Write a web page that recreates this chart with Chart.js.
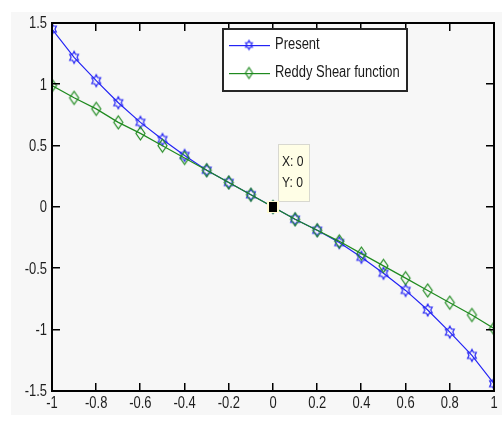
<!DOCTYPE html>
<html>
<head>
<meta charset="utf-8">
<script src="https://cdn.jsdelivr.net/npm/chart.js@4"></script>
<style>
  html, body { margin: 0; padding: 0; background: #ffffff; }
  #wrap { position: relative; width: 502px; height: 425px; }
  #bg { position: absolute; left: 11px; top: 12px; width: 491px; height: 403px; background: #f7f7f7; }
  canvas#plot { position: absolute; left: 0; top: 0; }
</style>
</head>
<body>
<div id="wrap">
  <div id="bg"></div>
  <canvas id="plot" width="502" height="425"></canvas>
</div>
<script>
// x positions shared by both curves
const xValues = [-1, -0.9, -0.8, -0.7, -0.6, -0.5, -0.4, -0.3, -0.2, -0.1, 0,
  0.1, 0.2, 0.3, 0.4, 0.5, 0.6, 0.7, 0.8, 0.9, 1]
const presentValues = [1.45, 1.22, 1.03, 0.85, 0.69, 0.55, 0.42, 0.30, 0.20, 0.10, 0,
  -0.10, -0.19, -0.29, -0.41, -0.54, -0.68, -0.84, -1.02, -1.21, -1.44]
const reddyValues = [0.99, 0.89, 0.80, 0.69, 0.60, 0.50, 0.40, 0.30, 0.20, 0.10, 0,
  -0.10, -0.19, -0.28, -0.38, -0.48, -0.58, -0.68, -0.78, -0.88, -0.99]
const seriesLabels = ["Present", "Reddy Shear function"]
const xTicks = [-1, -0.8, -0.6, -0.4, -0.2, 0, 0.2, 0.4, 0.6, 0.8, 1]
const yTicks = [-1.5, -1, -0.5, 0, 0.5, 1, 1.5]
const dataTip = { x: 0, y: 0 }

const blue = "#2323f5"
const green = "#1f8a1f"
const axisColor = "#000000"
const textFont = '16px "Liberation Sans", Arial, sans-serif'
const squeeze = 0.81 // narrow look of the original font

// hexagram marker
function makeHexagram(r, color) {
  const size = Math.ceil(r * 2 + 4)
  const c = document.createElement("canvas")
  c.width = size
  c.height = size
  const g = c.getContext("2d")
  const cx = size / 2, cy = size / 2
  const inner = r / Math.sqrt(3)
  g.beginPath()
  for (let i = 0; i < 12; i++) {
    const ang = -Math.PI / 2 + i * Math.PI / 6
    const rad = i % 2 === 0 ? r : inner
    const px = cx + Math.cos(ang) * rad * 0.85
    const py = cy + Math.sin(ang) * rad
    if (i === 0) g.moveTo(px, py)
    else g.lineTo(px, py)
  }
  g.closePath()
  g.strokeStyle = color
  g.lineWidth = 1.2
  g.stroke()
  return c
}

// tall diamond marker
function makeDiamond(w, h, color) {
  const c = document.createElement("canvas")
  c.width = Math.ceil(w + 4)
  c.height = Math.ceil(h + 4)
  const g = c.getContext("2d")
  const cx = c.width / 2, cy = c.height / 2
  g.beginPath()
  g.moveTo(cx, cy - h / 2)
  g.lineTo(cx + w / 2, cy)
  g.lineTo(cx, cy + h / 2)
  g.lineTo(cx - w / 2, cy)
  g.closePath()
  g.strokeStyle = color
  g.lineWidth = 1.2
  g.stroke()
  return c
}

const hexMarker = makeHexagram(6, blue)
const diaMarker = makeDiamond(9, 13, green)
const hexSmall = makeHexagram(4.5, blue)
const diaSmall = makeDiamond(7, 11, green)

// condensed text helper
function narrowText(ctx, text, x, y, align) {
  ctx.save()
  ctx.translate(x, y)
  ctx.scale(squeeze, 1)
  ctx.textAlign = align
  ctx.fillText(text, 0, 0)
  ctx.restore()
}

// box and inward ticks
const axesBox = {
  id: "axesBox",
  afterDraw(chart) {
    const ctx = chart.ctx
    const xs = chart.scales.x
    const ys = chart.scales.y
    const L = Math.round(xs.getPixelForValue(-1)), R = Math.round(xs.getPixelForValue(1))
    const T = Math.round(ys.getPixelForValue(1.5)), B = Math.round(ys.getPixelForValue(-1.5))
    ctx.save()
    ctx.fillStyle = axisColor
    ctx.fillRect(L - 1, T - 1, R - L + 2, 2)
    ctx.fillRect(L - 1, B - 1, R - L + 2, 2)
    ctx.fillRect(L - 1, T - 1, 2, B - T + 2)
    ctx.fillRect(R - 1, T - 1, 2, B - T + 2)
    xTicks.forEach((v) => {
      const px = Math.round(xs.getPixelForValue(v))
      ctx.fillRect(px - 1, B - 8, 1.5, 8)
      ctx.fillRect(px - 1, T, 1.5, 8)
    })
    yTicks.forEach((v) => {
      const py = Math.round(ys.getPixelForValue(v))
      ctx.fillRect(L, py - 1, 8, 1.5)
      ctx.fillRect(R - 8, py - 1, 8, 1.5)
    })
    ctx.restore()
  },
}

// tick labels, legend and data tip
const annotations = {
  id: "annotations",
  afterDraw(chart) {
    const ctx = chart.ctx
    const xs = chart.scales.x
    const ys = chart.scales.y
    const L = xs.getPixelForValue(-1)
    const B = ys.getPixelForValue(-1.5)
    ctx.save()
    ctx.font = textFont
    ctx.fillStyle = "#1e1e1e"
    ctx.textBaseline = "middle"
    yTicks.forEach((v) => narrowText(ctx, String(v), L - 5, ys.getPixelForValue(v) + 1, "right"))
    ctx.textBaseline = "top"
    xTicks.forEach((v) => narrowText(ctx, String(v), xs.getPixelForValue(v), B + 5, "center"))

    // legend
    const lx = 222, ly = 28, lw = 185, lh = 63
    ctx.fillStyle = "#ffffff"
    ctx.fillRect(lx, ly, lw, lh)
    ctx.fillStyle = "#262626"
    ctx.fillRect(lx, ly, lw, 2)
    ctx.fillRect(lx, ly + lh - 1, lw, 2)
    ctx.fillRect(lx, ly, 2, lh)
    ctx.fillRect(lx + lw - 1, ly, 2, lh + 1)
    const rows = [
      { label: seriesLabels[0], color: blue, mk: hexSmall, y: 45 },
      { label: seriesLabels[1], color: green, mk: diaSmall, y: 73 },
    ]
    ctx.textBaseline = "middle"
    rows.forEach((r) => {
      ctx.fillStyle = r.color
      ctx.fillRect(229, r.y, 41, 1.2)
      ctx.drawImage(r.mk, 249 - r.mk.width / 2, r.y - r.mk.height / 2)
      ctx.fillStyle = "#1a1a1a"
      narrowText(ctx, r.label, 275, r.y, "left")
    })

    // data tip
    const dx = xs.getPixelForValue(dataTip.x)
    const dy = ys.getPixelForValue(dataTip.y)
    ctx.fillStyle = "#d8d8d0"
    ctx.fillRect(dx + 5, dy - 63, 32, 58)
    ctx.fillStyle = "#fffee6"
    ctx.fillRect(dx + 6, dy - 62, 30, 56)
    ctx.fillStyle = "#1a1a1a"
    ctx.font = '15px "Liberation Sans", Arial, sans-serif'
    narrowText(ctx, "X: " + dataTip.x, dx + 9, dy - 45, "left")
    narrowText(ctx, "Y: " + dataTip.y, dx + 9, dy - 24, "left")
    ctx.fillStyle = "#fffbd0"
    ctx.fillRect(dx - 6, dy - 6, 12, 12)
    ctx.fillStyle = "#000000"
    ctx.fillRect(dx - 4, dy - 5, 8, 10)
    ctx.restore()
  },
}

new Chart(document.getElementById("plot"), {
  type: "line",
  data: {
    datasets: [
      {
        label: seriesLabels[1],
        data: xValues.map((x, i) => ({ x: x, y: reddyValues[i] })),
        borderColor: green,
        borderWidth: 1.2,
        pointStyle: diaMarker,
        pointRadius: 5,
        tension: 0,
      },
      {
        label: seriesLabels[0],
        data: xValues.map((x, i) => ({ x: x, y: presentValues[i] })),
        borderColor: blue,
        borderWidth: 1.2,
        pointStyle: hexMarker,
        pointRadius: 5,
        tension: 0,
      },
    ],
  },
  options: {
    responsive: false,
    animation: false,
    layout: { padding: { left: 10, top: 23, right: 8, bottom: 0 } },
    plugins: {
      legend: { display: false },
      tooltip: { enabled: false },
    },
    scales: {
      x: {
        type: "linear",
        min: -1,
        max: 1,
        afterFit: (s) => { s.height = 34 },
        grid: { display: false },
        border: { display: false },
        ticks: { display: false },
      },
      y: {
        type: "linear",
        min: -1.5,
        max: 1.5,
        afterFit: (s) => { s.width = 42 },
        grid: { display: false },
        border: { display: false },
        ticks: { display: false },
      },
    },
  },
  plugins: [axesBox, annotations],
})
</script>
</body>
</html>
